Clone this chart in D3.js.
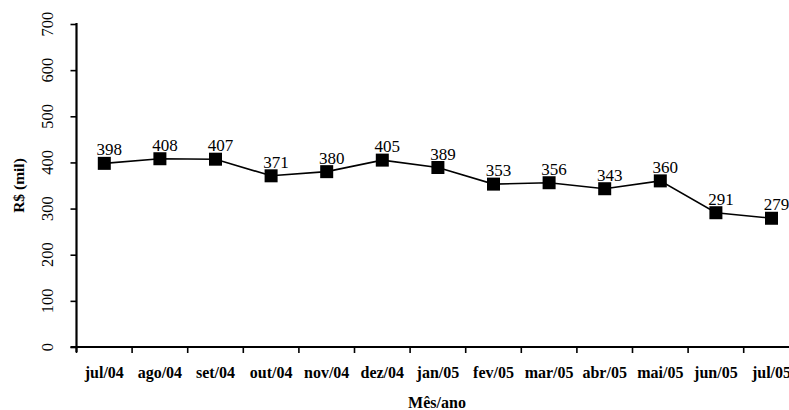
<!DOCTYPE html>
<html><head><meta charset="utf-8">
<script src="https://cdn.jsdelivr.net/npm/d3@7"></script>
<style>
html,body{margin:0;padding:0;background:#fff;}
svg{display:block;}
</style></head>
<body>
<svg id="c" width="789" height="410"></svg>
<script>
const months = ["jul/04","ago/04","set/04","out/04","nov/04","dez/04","jan/05","fev/05","mar/05","abr/05","mai/05","jun/05","jul/05"];
const values = [398,408,407,371,380,405,389,353,356,343,360,291,279];
const yTicks = [0,100,200,300,400,500,600,700];
const yTitle = "R$ (mil)";
const xTitle = "Mês/ano";

const svg = d3.select("#c");
const left = 76.5, step = 55.6;
const x = d3.scaleBand().domain(months).range([left, left + step * months.length]).padding(0);
const y = d3.scaleLinear().domain([0,700]).range([347,24]);
const font = "'Liberation Serif','Times New Roman',serif";

// y axis
const ya = svg.append("g").attr("transform", `translate(${left},0)`)
  .call(d3.axisLeft(y).tickValues(yTicks).tickSize(6).tickFormat(d3.format("d")));
ya.select(".domain").remove();
ya.selectAll(".tick line").attr("stroke","#000").attr("stroke-width",1.6);
ya.selectAll(".tick text").remove();
svg.append("line").attr("x1",left).attr("x2",left).attr("y1",y(700)-1).attr("y2",y(0)+5)
  .attr("stroke","#000").attr("stroke-width",2.2);
svg.append("g").selectAll("text").data(yTicks).join("text")
  .attr("transform", d => `translate(53,${y(d)}) rotate(-90)`)
  .attr("text-anchor","middle").attr("font-family",font).attr("font-size",16.5)
  .attr("fill","#000").text(d => d);

// x axis
svg.append("line").attr("x1",left-6).attr("x2",789).attr("y1",y(0)).attr("y2",y(0))
  .attr("stroke","#000").attr("stroke-width",2.2);
svg.append("g").selectAll("line").data(months).join("line")
  .attr("x1", d => x(d)).attr("x2", d => x(d))
  .attr("y1", y(0)).attr("y2", y(0)+6)
  .attr("stroke","#000").attr("stroke-width",1.6);
svg.append("g").selectAll("text").data(months).join("text")
  .attr("x", d => x(d) + x.bandwidth()/2).attr("y", 378)
  .attr("text-anchor","middle").attr("font-family",font).attr("font-weight","bold")
  .attr("font-size",16).attr("fill","#000").text(d => d);

// titles
svg.append("text").attr("transform", `translate(24,${(y(0)+y(700))/2}) rotate(-90)`)
  .attr("text-anchor","middle").attr("font-family",font).attr("font-weight","bold")
  .attr("font-size",15.5).attr("fill","#000").text(yTitle);
svg.append("text").attr("x", 437).attr("y", 408)
  .attr("text-anchor","middle").attr("font-family",font).attr("font-weight","bold")
  .attr("font-size",16).attr("fill","#000").text(xTitle);

// line
const cx = (d,i) => x(months[i]) + x.bandwidth()/2;
svg.append("path").datum(values)
  .attr("d", d3.line().x((d,i) => cx(d,i)).y(d => y(d)))
  .attr("fill","none").attr("stroke","#000").attr("stroke-width",1.6);
svg.append("g").selectAll("rect").data(values).join("rect")
  .attr("x", (d,i) => cx(d,i) - 6.5).attr("y", d => y(d) - 6.5)
  .attr("width",13).attr("height",13).attr("fill","#000");
svg.append("g").selectAll("text").data(values).join("text")
  .attr("x", (d,i) => cx(d,i) + 5).attr("y", d => y(d) - 8)
  .attr("text-anchor","middle").attr("font-family",font)
  .attr("font-size",17).attr("fill","#000").text(d => d);
</script>
</body></html>
